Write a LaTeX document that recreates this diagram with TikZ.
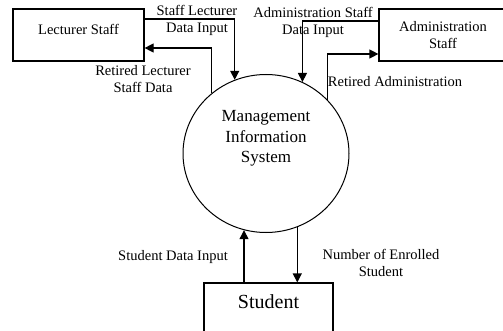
\documentclass[tikz,border=0pt]{standalone}
\usepackage{fontspec}
\setmainfont{Liberation Serif}
\usetikzlibrary{arrows.meta,shapes.geometric}
\tikzset{
  entity/.style={draw,line width=1.2pt,rectangle,minimum height=52pt,inner sep=0pt},
  flow/.style={line width=1.2pt,-{Triangle[width=9pt,length=9pt]}},
  lbl/.style={align=center,inner sep=0pt,font=\fontsize{14.5}{17}\selectfont},
}
\begin{document}
\begin{tikzpicture}[x=1pt,y=-1pt]
    \clip (0,0) rectangle (503,331);
    %% External entities
    \node[entity,minimum width=131pt,label={[lbl,yshift=6pt]center:Lecturer Staff}] (lect) at (78.5,35) {};
    \node[entity,lbl,minimum width=128pt] (admin) at (443,35) {Administration\\Staff};
    \node[entity,minimum width=129pt,minimum height=60pt,label={[inner sep=0pt,font=\fontsize{20}{24}\selectfont,yshift=11pt]center:Student}] (stud) at (268.5,313) {};
    %% Process
    \node[draw,line width=1pt,ellipse,minimum width=166pt,minimum height=158pt,label={[align=center,inner sep=0pt,font=\fontsize{17}{20.5}\selectfont,yshift=15pt]center:{Management\\Information\\System}}] (mis) at (266,153.5) {};
    %% Data flows
    \draw[flow] ([yshift=16pt]lect.east) -| (mis.113);
    \draw[flow] (mis.132) |- ([yshift=-13pt]lect.east);
    \draw[flow] ([yshift=14pt]admin.west) -| (mis.63);
    \draw[flow] (mis.41) |- ([yshift=-19pt]admin.west);
    \draw[flow] (stud.north -| mis.254) -- (mis.254);
    \draw[flow] (mis.293) -- (mis.293 |- stud.north);
    %% Flow labels
    \node[lbl] (lin) at (197,20) {Staff Lecturer\\Data Input};
    \node[lbl] (lout) at (143,79) {Retired Lecturer\\Staff Data};
    \node[lbl] (ain) at (313,22) {Administration Staff\\Data Input};
    \node[lbl] (aout) at (395,82) {Retired Administration};
    \node[lbl] (sin) at (173,257) {Student Data Input};
    \node[lbl] (sout) at (381,263) {Number of Enrolled\\Student};
\end{tikzpicture}
\end{document}
